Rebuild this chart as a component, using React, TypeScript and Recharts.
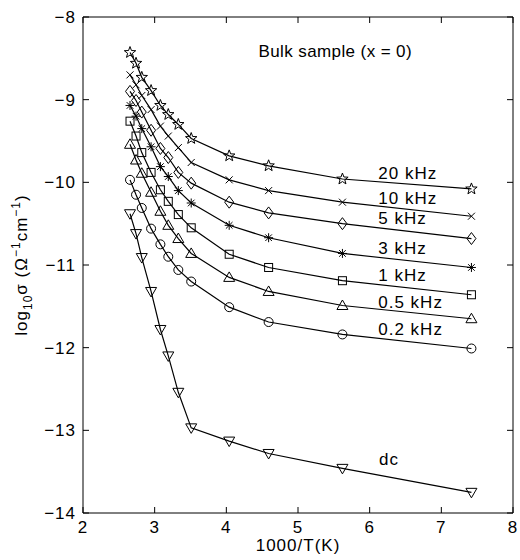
import { LineChart, Line, XAxis, YAxis, ReferenceDot } from 'recharts'

// 1000/T (K^-1) measurement temperatures
const invT = [2.656, 2.74, 2.82, 2.95, 3.08, 3.19, 3.33, 3.51, 4.04, 4.59, 5.62, 7.42]

// log10 sigma per frequency
const f20k = [-8.43, -8.56, -8.73, -8.89, -9.07, -9.18, -9.3, -9.47, -9.68, -9.8, -9.96, -10.08]
const f10k = [-8.7, -8.82, -8.95, -9.12, -9.32, -9.44, -9.58, -9.76, -9.97, -10.1, -10.24, -10.41]
const f5k = [-8.9, -9.01, -9.15, -9.37, -9.59, -9.7, -9.88, -10.01, -10.24, -10.37, -10.5, -10.68]
const f3k = [-9.07, -9.2, -9.35, -9.57, -9.81, -9.93, -10.1, -10.25, -10.52, -10.67, -10.86, -11.03]
const f1k = [-9.26, -9.44, -9.64, -9.88, -10.09, -10.23, -10.39, -10.55, -10.87, -11.03, -11.19, -11.36]
const f05k = [-9.54, -9.73, -9.89, -10.12, -10.35, -10.52, -10.68, -10.86, -11.15, -11.32, -11.49, -11.65]
const f02k = [-9.97, -10.15, -10.31, -10.56, -10.75, -10.9, -11.06, -11.2, -11.51, -11.69, -11.84, -12.01]
const dc = [-10.38, -10.62, -10.91, -11.32, -11.78, -12.1, -12.54, -12.97, -13.13, -13.28, -13.46, -13.75]

const seriesNames = ['20 kHz', '10 kHz', '5 kHz', '3 kHz', '1 kHz', '0.5 kHz', '0.2 kHz', 'dc']
const seriesValues = [f20k, f10k, f5k, f3k, f1k, f05k, f02k, dc]
const markers = ['star', 'x', 'diamond', 'asterisk', 'square', 'triUp', 'circle', 'triDown']

// where each curve label sits (data units, left edge / vertical centre)
const labelX = [6.12, 6.12, 6.12, 6.12, 6.12, 6.12, 6.12, 6.13]
const labelY = [-9.89, -10.2, -10.44, -10.8, -11.13, -11.45, -11.78, -13.35]

const xTicks = [2, 3, 4, 5, 6, 7, 8]
const yTicks = [-14, -13, -12, -11, -10, -9, -8]

const font = '"Liberation Sans", Arial, Helvetica, sans-serif'
const txt = { fontFamily: font, fontSize: 17, letterSpacing: 1, fill: '#000' }

function Marker({ cx, cy, kind }: { cx: number; cy: number; kind: string }) {
  const st = { fill: 'none', stroke: '#000', strokeWidth: 1 }
  if (cx == null || cy == null) return null
  switch (kind) {
    case 'star': {
      const pts: string[] = []
      for (let i = 0; i < 10; i++) {
        const r = i % 2 === 0 ? 6 : 2.5
        const a = -Math.PI / 2 + (i * Math.PI) / 5
        pts.push(`${cx + r * Math.cos(a)},${cy + r * Math.sin(a)}`)
      }
      return <polygon points={pts.join(' ')} {...st} />
    }
    case 'x':
      return <path d={`M${cx - 3.5},${cy - 3.5}L${cx + 3.5},${cy + 3.5}M${cx - 3.5},${cy + 3.5}L${cx + 3.5},${cy - 3.5}`} {...st} />
    case 'diamond':
      return <polygon points={`${cx},${cy - 6} ${cx + 4.5},${cy} ${cx},${cy + 6} ${cx - 4.5},${cy}`} {...st} />
    case 'asterisk':
      return <path d={`M${cx - 4.5},${cy}L${cx + 4.5},${cy}M${cx},${cy - 4.5}L${cx},${cy + 4.5}M${cx - 3.3},${cy - 3.3}L${cx + 3.3},${cy + 3.3}M${cx - 3.3},${cy + 3.3}L${cx + 3.3},${cy - 3.3}`} {...st} />
    case 'square':
      return <rect x={cx - 4} y={cy - 4} width={8} height={8} {...st} />
    case 'triUp':
      return <polygon points={`${cx},${cy - 5.5} ${cx + 5.5},${cy + 4} ${cx - 5.5},${cy + 4}`} {...st} />
    case 'circle':
      return <circle cx={cx} cy={cy} r={4.5} {...st} />
    case 'triDown':
      return <polygon points={`${cx},${cy + 5.5} ${cx + 5.5},${cy - 4} ${cx - 5.5},${cy - 4}`} {...st} />
  }
  return null
}

const fmt = (v: number) => String(v).replace('-', '\u2212')

const BottomTick = (p: any) => (
  <g>
    <line x1={p.x} x2={p.x} y1={p.y} y2={p.y - 6} stroke="#000" />
    <text x={p.x} y={p.y + 20} textAnchor="middle" {...txt}>{p.payload.value}</text>
  </g>
)
const TopTick = (p: any) => <line x1={p.x} x2={p.x} y1={p.y} y2={p.y + 6} stroke="#000" />
const LeftTick = (p: any) => (
  <g>
    <line x1={p.x} x2={p.x + 6} y1={p.y} y2={p.y} stroke="#000" />
    <text x={p.x - 7} y={p.y + 6} textAnchor="end" {...txt}>{fmt(p.payload.value)}</text>
  </g>
)
const RightTick = (p: any) => <line x1={p.x} x2={p.x - 6} y1={p.y} y2={p.y} stroke="#000" />

const YTitle = (p: any) => {
  const vb = p.viewBox
  const cy = vb.y + vb.height / 2
  return (
    <text transform={`translate(${vb.x - 6},${cy}) rotate(-90)`} textAnchor="middle" {...txt}>
      log<tspan dy={5} fontSize={12}>10</tspan>
      <tspan dy={-5}>σ (Ω</tspan>
      <tspan dy={-7} fontSize={12}>−1</tspan>
      <tspan dy={7}>cm</tspan>
      <tspan dy={-7} fontSize={12}>−1</tspan>
      <tspan dy={7}>)</tspan>
    </text>
  )
}

const XTitle = (p: any) => {
  const vb = p.viewBox
  return (
    <text x={vb.x + vb.width / 2} y={vb.y + 38} textAnchor="middle" {...txt}>1000/T(K)</text>
  )
}

export default function App() {
  return (
    <div style={{ position: 'absolute', left: 0, top: 0, background: '#fff' }}>
      <LineChart width={520} height={560} margin={{ top: 15, right: 5, bottom: 17, left: 33 }}>
        <XAxis
          dataKey="x"
          type="number"
          domain={[2, 8]}
          ticks={xTicks}
          tickSize={0}
          tickMargin={0}
          height={30}
          tick={BottomTick}
          stroke="#000"
          allowDataOverflow
          label={{ content: XTitle }}
        />
        <XAxis
          xAxisId="top"
          dataKey="x"
          orientation="top"
          type="number"
          domain={[2, 8]}
          ticks={xTicks}
          tickSize={0}
          tickMargin={0}
          height={2}
          tick={TopTick}
          stroke="#000"
          allowDataOverflow
        />
        <YAxis
          type="number"
          domain={[-14, -8]}
          ticks={yTicks}
          tickSize={0}
          tickMargin={0}
          width={50}
          tick={LeftTick}
          stroke="#000"
          allowDataOverflow
          label={{ content: YTitle }}
        />
        <YAxis
          yAxisId="right"
          orientation="right"
          type="number"
          domain={[-14, -8]}
          ticks={yTicks}
          tickSize={0}
          tickMargin={0}
          width={2}
          tick={RightTick}
          stroke="#000"
          allowDataOverflow
        />
        {/* invisible copy so the box axes have a series bound to them */}
        <Line
          xAxisId="top"
          yAxisId="right"
          data={invT.map((x, i) => ({ x, y: dc[i] }))}
          dataKey="y"
          stroke="none"
          dot={false}
          activeDot={false}
          isAnimationActive={false}
          legendType="none"
        />
        {seriesValues.map((vals, si) => (
          <Line
            key={seriesNames[si]}
            name={seriesNames[si]}
            data={invT.map((x, i) => ({ x, y: vals[i] }))}
            dataKey="y"
            type="linear"
            stroke="#000"
            strokeWidth={1.2}
            isAnimationActive={false}
            dot={(p: any) => <Marker key={`${si}-${p.index}`} cx={p.cx} cy={p.cy} kind={markers[si]} />}
            activeDot={false}
          />
        ))}
        <ReferenceDot
          x={5.52}
          y={-8.42}
          r={0}
          fill="none"
          stroke="none"
          label={{ content: (p: any) => (
            <text x={p.viewBox.x} y={p.viewBox.y} dominantBaseline="central" textAnchor="middle" {...txt} letterSpacing={0.4}>
              Bulk sample (x = 0)
            </text>
          ) }}
        />
        {seriesNames.map((n, i) => (
          <ReferenceDot
            key={'lbl' + n}
            x={labelX[i]}
            y={labelY[i]}
            r={0}
            fill="none"
            stroke="none"
            label={{ content: (p: any) => (
              <text x={p.viewBox.x} y={p.viewBox.y} dominantBaseline="central" textAnchor="start" {...txt}>
                {n}
              </text>
            ) }}
          />
        ))}
      </LineChart>
    </div>
  )
}
